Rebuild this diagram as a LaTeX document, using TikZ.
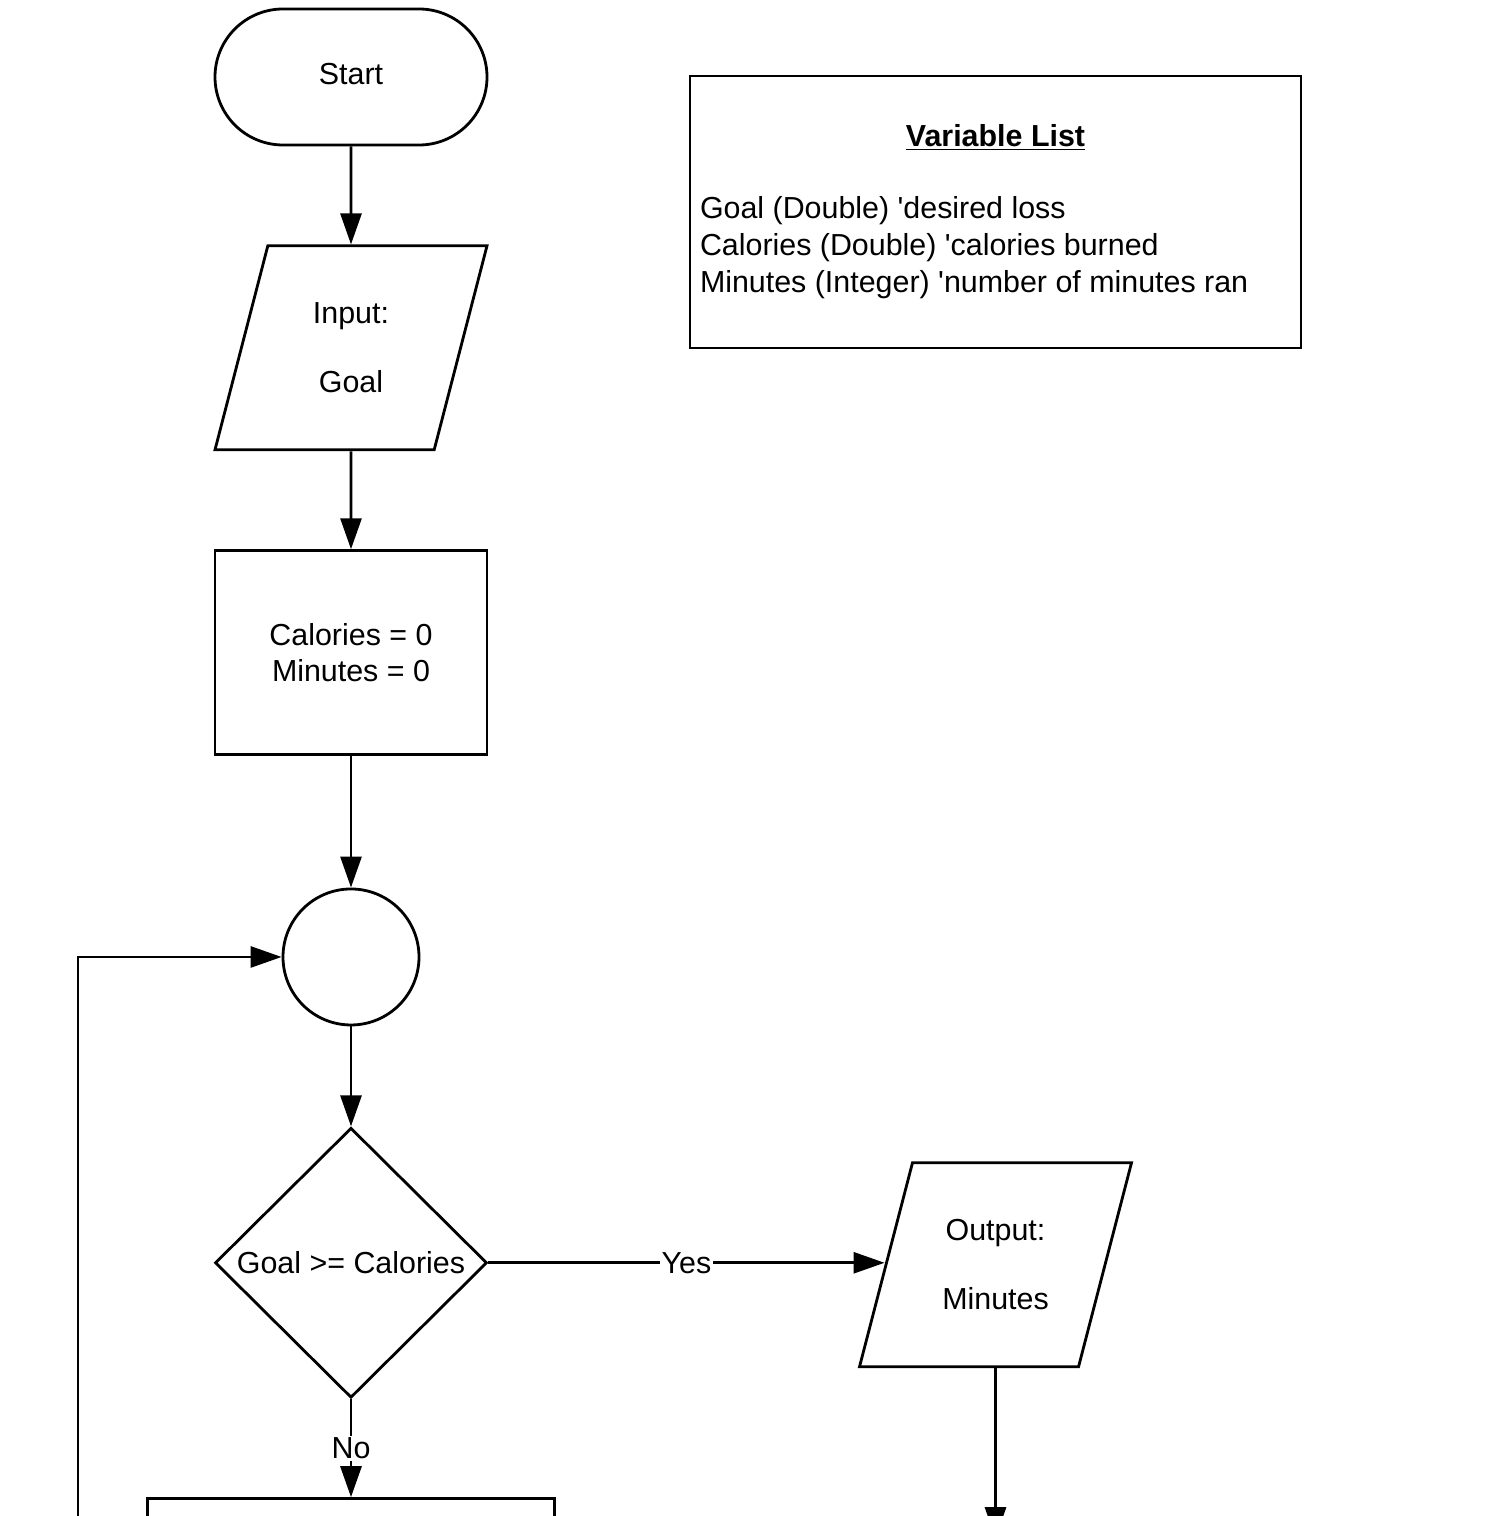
\documentclass[tikz,border=0pt]{standalone}
\usepackage{fontspec}
\setmainfont{Liberation Sans}
\usetikzlibrary{arrows.meta,positioning,shapes.geometric}

\begin{document}
\begin{tikzpicture}[
  font=\fontsize{17.3}{21}\selectfont, line width=1.6pt, node distance=1.96cm,
  term/.style={draw, rounded corners=1.36cm, minimum width=5.44cm, minimum height=2.72cm},
  io/.style={draw, trapezium, trapezium left angle=62.5, trapezium right angle=117.5, trapezium stretches body=true, minimum width=5.44cm, minimum height=4.08cm, align=center},
  proc/.style={draw, rectangle, minimum width=5.44cm, minimum height=4.08cm, align=center},
  dec/.style={draw, diamond, inner sep=0pt, minimum width=5.44cm, minimum height=5.4cm},
  joint/.style={draw, circle, minimum size=2.72cm},
  pf/.style={-{Triangle[length=0.62cm, width=0.42cm]}},
  lbl/.style={fill=white, inner sep=1pt}
]
\clip (0,0) rectangle (29.8,-30.32);
\node[term] (start) at (7.02,-1.54) {\raisebox{3pt}{Start}};
\node[io, below=of start] (input) {Input:\\[18pt]Goal};
\node[proc, below=of input] (init) {Calories = 0\\Minutes = 0};
\node[joint, below=2.63cm of init] (join) {};
\node[dec, below=2.0cm of join] (test) {Goal >= Calories};
\node[proc, below=of test, minimum width=8.14cm] (step) {};
\node[draw, minimum width=12.22cm, minimum height=5.44cm] (vars) at (19.91,-4.24) {};
\node (vtitle) at ([yshift=-1.26cm]vars.north) {\underline{\textbf{Variable List}}};
\node[anchor=west, align=left, inner sep=0pt] (vlines) at ([xshift=0.2cm, yshift=-3.46cm]vars.north west)
  {Goal (Double) \textquotesingle desired loss\\Calories (Double) \textquotesingle calories burned\\Minutes (Integer) \textquotesingle number of minutes ran};
\node[io] (out) at ([yshift=-0.04cm]test -| vars) {Output:\\[18pt]Minutes};
\coordinate (loop) at (1.56,-32);
\coordinate (outend) at ([yshift=-3.4cm]out.south);
\draw[pf] (start)--(input); \draw[pf] (input)--(init); \draw[pf] (init)--(join);
\draw[pf] (join)--(test);
\draw[pf] (test)--node[lbl]{Yes}(test -| out.west);
\draw[pf] (test)--node[lbl]{No}(step);
\draw[pf] (out)--(outend);
\draw[pf] (loop) |- (join);
\end{tikzpicture}
\end{document}
